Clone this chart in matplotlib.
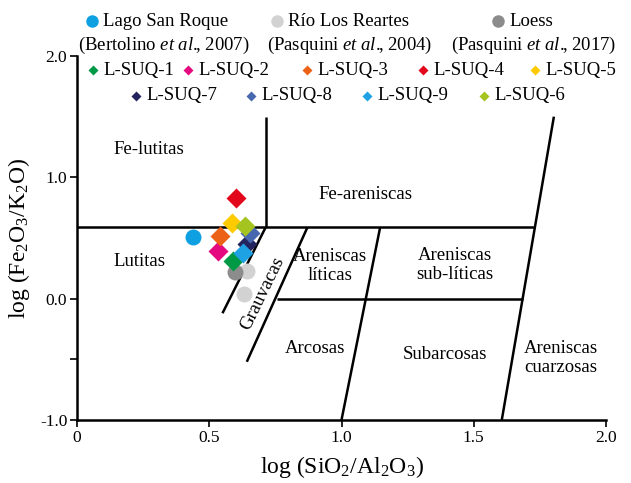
import matplotlib
matplotlib.use("Agg")
import matplotlib.pyplot as plt
from matplotlib.lines import Line2D

plt.rcParams['font.family'] = ['Liberation Serif', 'DejaVu Serif']
plt.rcParams['mathtext.fontset'] = 'custom'
plt.rcParams['mathtext.rm'] = 'Liberation Serif'
plt.rcParams['mathtext.it'] = 'Liberation Serif:italic'

# reference samples (circles)
ref_names = ["Lago San Roque", "Río Los Reartes", "Loess"]
ref_cites = ["(Bertolino $\\mathit{et\\ al.}\\!\\!$, 2007)",
             "(Pasquini $\\mathit{et\\ al.}\\!\\!$, 2004)",
             "(Pasquini $\\mathit{et\\ al.}\\!\\!$, 2017)"]
ref_colors = ["#0FA0E2", "#D2D2D2", "#8C8C8C"]
ref_x = [[0.437], [0.644, 0.631], [0.597]]
ref_y = [[0.51], [0.23, 0.035], [0.22]]

# L-SUQ samples (diamonds)
suq_names = ["L-SUQ-1", "L-SUQ-2", "L-SUQ-3", "L-SUQ-4", "L-SUQ-5",
             "L-SUQ-7", "L-SUQ-8", "L-SUQ-9", "L-SUQ-6"]
suq_colors = ["#009A47", "#E5097F", "#EC6216", "#E2071A", "#FDCB00",
              "#24245E", "#4767AE", "#1FA2E4", "#A5C420"]
suq_x = [0.591, 0.532, 0.541, 0.601, 0.586, 0.644, 0.654, 0.626, 0.635]
suq_y = [0.31, 0.395, 0.52, 0.83, 0.62, 0.45, 0.54, 0.373, 0.60]

# classification boundaries
bound_x = [[0, 1.73], [0.713, 0.713], [0.713, 0.55], [0.871, 0.642],
           [0.755, 1.687], [1.146, 1.0], [1.803, 1.606]]
bound_y = [[0.587, 0.587], [0.587, 1.50], [0.587, -0.12], [0.587, -0.52],
           [0.0, 0.0], [0.587, -1.0], [1.50, -1.0]]

fields = ["Fe-lutitas", "Lutitas", "Fe-areniscas", "Areniscas\nlíticas",
          "Areniscas\nsub-líticas", "Arcosas", "Subarcosas",
          "Areniscas\ncuarzosas"]
field_x = [0.27, 0.235, 1.09, 0.955, 1.43, 0.9, 1.39, 1.83]
field_y = [1.23, 0.31, 0.86, 0.27, 0.28, -0.41, -0.46, -0.49]

W, H = 631, 483
fig = plt.figure(figsize=(W / 100, H / 100), dpi=100)
ax = fig.add_axes([77 / W, 1 - 420 / H, 529 / W, 364 / H])

for bx, by in zip(bound_x, bound_y):
    ax.plot(bx, by, color='black', lw=1.8, solid_capstyle='butt')

for t, fx, fy in zip(fields, field_x, field_y):
    ax.text(fx, fy, t, ha='center', va='center', fontsize=13.5, linespacing=1.15)
ax.text(0.703, 0.04, "Grauvacas", ha='center', va='center', fontsize=13.5,
        rotation=64)

for xs, ys, c in zip(ref_x, ref_y, ref_colors):
    ax.plot(xs, ys, 'o', color=c, ms=11.5, mec='none', zorder=3)
for xs, ys, c in zip(suq_x, suq_y, suq_colors):
    ax.plot(xs, ys, 'D', color=c, ms=10, mec='none', zorder=4)

ax.set_xlim(0, 2)
ax.set_ylim(-1, 2)
ax.spines['top'].set_visible(False)
ax.spines['right'].set_visible(False)
ax.spines['left'].set_linewidth(1.8)
ax.spines['bottom'].set_linewidth(1.8)
ax.set_xticks([0, 0.5, 1.0, 1.5, 2.0])
ax.set_xticklabels(["0", "0.5", "1.0", "1.5", "2.0"])
ax.set_yticks([-1.0, 0.0, 1.0, 2.0])
ax.set_yticklabels(["-1.0", "0.0", "1.0", "2.0"])
ax.set_yticks([-0.5], minor=True)
ax.tick_params(which='both', direction='out', length=5, width=1.2,
               labelsize=12.5, pad=2)
ax.set_xlabel("log (SiO$_2$/Al$_2$O$_3$)", fontsize=17, labelpad=6)
ax.set_ylabel("log (Fe$_2$O$_3$/K$_2$O)", fontsize=17, labelpad=6)


def fpos(px, py):
    return px / W, 1 - py / H


# legend: reference samples
ref_mx = [92, 277, 498]
cite_cx = [164, 350, 534]
for name, cite, c, mx, cx in zip(ref_names, ref_cites, ref_colors, ref_mx, cite_cx):
    fig.add_artist(Line2D([fpos(mx, 0)[0]], [fpos(0, 21)[1]], marker='o',
                          color=c, ms=9, mec='none', transform=fig.transFigure))
    fig.text(*fpos(mx + 11, 21), name, ha='left', va='center', fontsize=13.5)
    fig.text(*fpos(cx, 45), cite, ha='center', va='center', fontsize=13.5)

# legend: L-SUQ samples
suq_mx = [93, 188, 307, 423, 535, 136, 251, 367, 484]
suq_my = [70] * 5 + [96] * 4
for name, c, mx, my in zip(suq_names, suq_colors, suq_mx, suq_my):
    fig.add_artist(Line2D([fpos(mx, 0)[0]], [fpos(0, my)[1]], marker='D',
                          color=c, ms=5.5, mec='none', transform=fig.transFigure))
    fig.text(*fpos(mx + 10, my), name, ha='left', va='center', fontsize=13.5)

fig.savefig("out.png", dpi=100)
